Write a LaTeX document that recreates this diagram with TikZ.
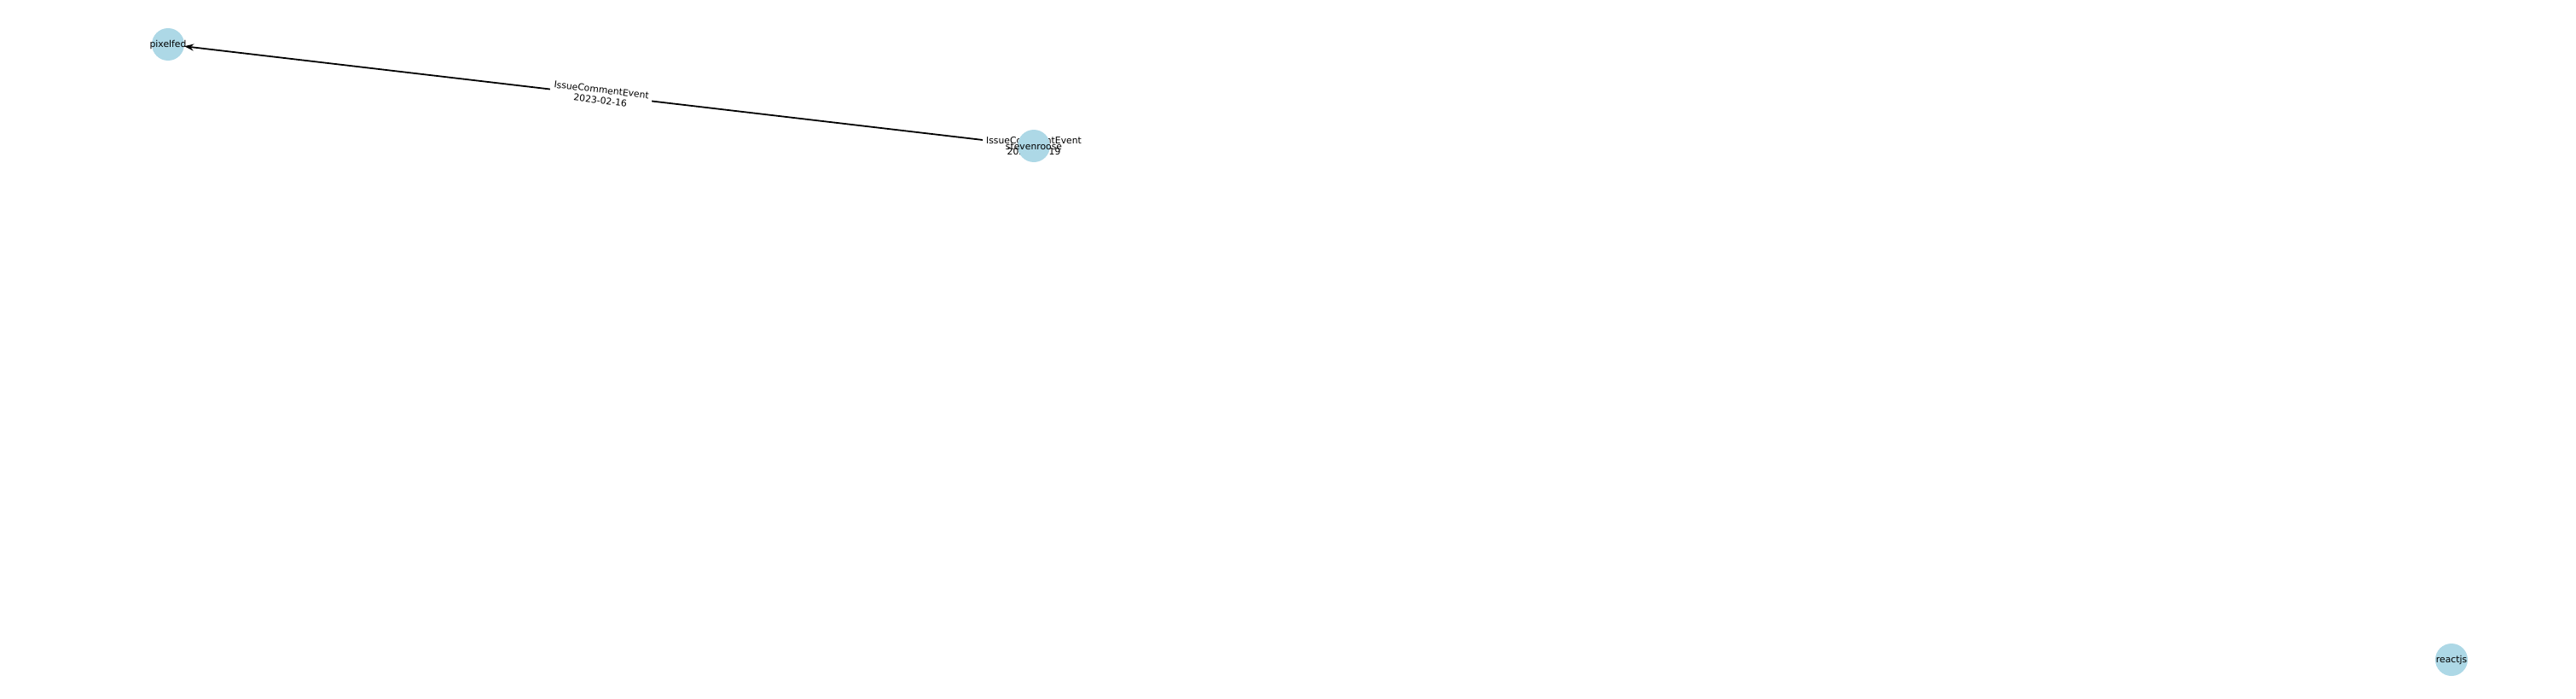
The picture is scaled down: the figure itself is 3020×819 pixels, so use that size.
\documentclass[tikz,border=0pt]{standalone}
\usepackage{fontspec}
\setmainfont{DejaVu Sans}
\usetikzlibrary{arrows.meta}
\definecolor{nodeblue}{RGB}{173,216,230}
\pgfdeclarelayer{bg}
\pgfsetlayers{bg,main}
\tikzset{
  txt/.style={font=\fontsize{10.8}{12.5}\selectfont, text=black},
  vertex/.style={circle, fill=nodeblue, minimum size=38pt, inner sep=0pt, label={[txt, inner sep=0pt, yshift=-1pt]center:#1}},
  elabel/.style={txt, fill=white, inner sep=4pt, align=center},
  edge/.style={line width=1.8pt, -{Stealth[length=11pt,width=8pt]}}
}
\begin{document}
\begin{tikzpicture}[x=1pt,y=-1pt]
\useasboundingbox (0,0) rectangle (3020,819);
\node[vertex=pixelfed] (pixelfed) at (197,52) {};
\node[vertex=stevenroose] (stevenroose) at (1212,171) {};
\node[vertex=reactjs] (reactjs) at (2874,773) {};
\begin{pgfonlayer}{bg}
\draw[edge] (stevenroose) -- (pixelfed);
\node[elabel, rotate=-6.69] (l1) at (704.5,111.5) {IssueCommentEvent\\2023-02-16};
\node[elabel] (l2) at (1212,171) {IssueCommentEvent\\2023-02-19};
\end{pgfonlayer}
\end{tikzpicture}
\end{document}
